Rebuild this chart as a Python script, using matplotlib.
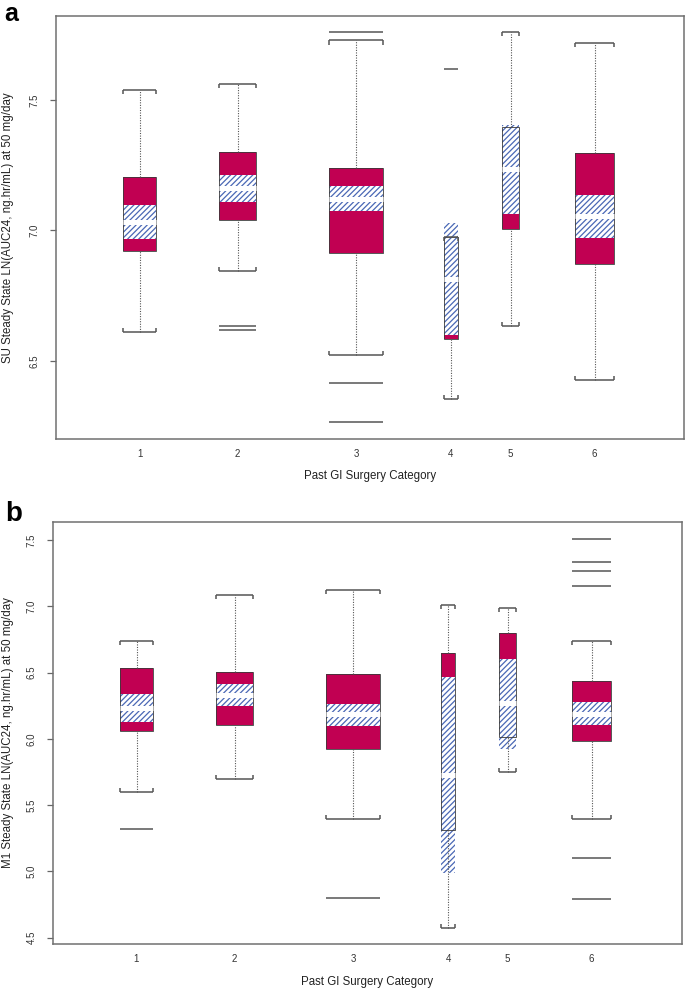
import numpy as np
import matplotlib
matplotlib.use("Agg")
import matplotlib.pyplot as plt

plt.rcParams['font.family'] = ['Liberation Sans', 'DejaVu Sans']
plt.rcParams['hatch.linewidth'] = 0.9

cats = ['1', '2', '3', '4', '5', '6']

# panel a : SU steady state
su_lo = [6.612, 6.846, 6.522, 6.355, 6.633, 6.425]
su_q1 = [6.921, 7.042, 6.913, 6.582, 7.004, 6.871]
su_nlo = [6.968, 7.108, 7.073, 6.598, 7.065, 6.971]
su_med = [7.033, 7.164, 7.121, 6.812, 7.236, 7.057]
su_nhi = [7.098, 7.213, 7.169, 7.030, 7.405, 7.136]
su_q3 = [7.206, 7.302, 7.241, 6.976, 7.398, 7.296]
su_hi = [7.538, 7.561, 7.729, 6.976, 7.760, 7.719]
su_out = [[], [6.632, 6.619], [7.761, 6.414, 6.266], [7.620], [], []]

# panel b : M1 steady state
m1_lo = [5.600, 5.693, 5.393, 4.569, 5.753, 5.393]
m1_q1 = [6.060, 6.106, 5.924, 5.310, 6.017, 5.985]
m1_nlo = [6.125, 6.246, 6.098, 4.985, 5.924, 6.106]
m1_med = [6.236, 6.329, 6.186, 5.728, 6.267, 6.189]
m1_nhi = [6.342, 6.412, 6.261, 6.468, 6.604, 6.277]
m1_q3 = [6.533, 6.508, 6.491, 6.650, 6.801, 6.433]
m1_hi = [6.735, 7.085, 7.122, 7.012, 6.987, 6.735]
m1_out = [[5.317], [], [4.799], [], [], [7.508, 7.334, 7.269, 7.156, 5.101, 4.792]]

# box positions / widths along the x axis (plot units)
pos = np.array([0.835, 1.815, 3.00, 3.95, 4.545, 5.385])
wid = np.array([0.33, 0.365, 0.54, 0.14, 0.175, 0.39])

crimson = '#C10052'
blue = '#4A68B5'
grey = '#555555'


def panel(ax, lo, q1, nlo, med, nhi, q3, hi, outl, ylim, yt, ylab, xmax):
    lo, q1, nlo, med, nhi, q3, hi = [np.array(v) for v in (lo, q1, nlo, med, nhi, q3, hi)]
    ax.bar(pos, q3 - q1, bottom=q1, width=wid, color=crimson, edgecolor='none', zorder=2)
    ax.bar(pos, nhi - nlo, bottom=nlo, width=wid, facecolor='white', edgecolor=blue,
           hatch='//////', lw=0, zorder=3)
    ax.bar(pos, q3 - q1, bottom=q1, width=wid, fill=False, edgecolor='#3a3a3a', lw=0.6, zorder=4)
    ax.hlines(med, pos - wid / 2, pos + wid / 2, color='white', lw=3.6, zorder=5)

    # whiskers
    ax.vlines(pos, q3, hi, color=grey, lw=0.8, linestyles=(0, (1, 1.3)), zorder=4)
    ax.vlines(pos, lo, q1, color=grey, lw=0.8, linestyles=(0, (1, 1.3)), zorder=4)
    tk = (ylim[1] - ylim[0]) * 4 / 422
    for y, d in ((hi, -tk), (lo, tk)):
        ax.hlines(y, pos - wid / 2, pos + wid / 2, color=grey, lw=1.1, zorder=6)
        ax.vlines(pos - wid / 2, y, y + d, color=grey, lw=1.1, zorder=6)
        ax.vlines(pos + wid / 2, y, y + d, color=grey, lw=1.1, zorder=6)

    # outliers as short lines
    for i, vals in enumerate(outl):
        if vals:
            ax.hlines(vals, pos[i] - wid[i] / 2, pos[i] + wid[i] / 2, color=grey, lw=1.1, zorder=6)

    ax.set_xlim(0, xmax)
    ax.set_ylim(*ylim)
    ax.set_xticks(pos)
    ax.set_xticklabels(cats, fontsize=7)
    ax.set_yticks(yt)
    ax.set_yticklabels(['%.1f' % v for v in yt], rotation=90, va='center', fontsize=7)
    ax.tick_params(axis='x', length=0, pad=7, colors='#333333')
    ax.tick_params(axis='y', length=4, width=0.9, pad=8, color='#666666', labelcolor='#333333')
    for s in ax.spines.values():
        s.set_color('#707070')
        s.set_linewidth(1.1)
    ax.set_xlabel('Past GI Surgery Category', fontsize=8.3, color='#222222')
    ax.set_ylabel(ylab, fontsize=8.3, color='#222222')


fig = plt.figure(figsize=(6.85, 9.92), dpi=100)
W, H = 685, 992

ax1 = fig.add_axes([56 / W, 1 - 439 / H, 628 / W, 423 / H])
panel(ax1, su_lo, su_q1, su_nlo, su_med, su_nhi, su_q3, su_hi, su_out,
      (6.20, 7.823), [6.5, 7.0, 7.5],
      'SU Steady State LN(AUC24, ng.hr/mL) at 50 mg/day', 6.28)
ax1.xaxis.set_label_coords(0.5, -(476 - 439) / 423)
ax1.xaxis.label.set_va('center')
ax1.yaxis.set_label_coords((8 - 56) / 628, 0.5)
ax1.yaxis.label.set_va('center')

ax2 = fig.add_axes([53 / W, 1 - 944 / H, 629 / W, 422 / H])
panel(ax2, m1_lo, m1_q1, m1_nlo, m1_med, m1_nhi, m1_q3, m1_hi, m1_out,
      (4.451, 7.637), [4.5, 5.0, 5.5, 6.0, 6.5, 7.0, 7.5],
      'M1 Steady State LN(AUC24, ng.hr/mL) at 50 mg/day', 6.29)
ax2.xaxis.set_label_coords(0.5, -(982 - 944) / 422)
ax2.xaxis.label.set_va('center')
ax2.yaxis.set_label_coords((8 - 53) / 629, 0.5)
ax2.yaxis.label.set_va('center')

fig.text(4 / W, 1 - 2 / H, 'a', fontsize=18, fontweight='bold', va='top')
fig.text(5 / W, 1 - 521 / H, 'b', fontsize=20, fontweight='bold', va='baseline')

fig.savefig('out.png', dpi=100)
